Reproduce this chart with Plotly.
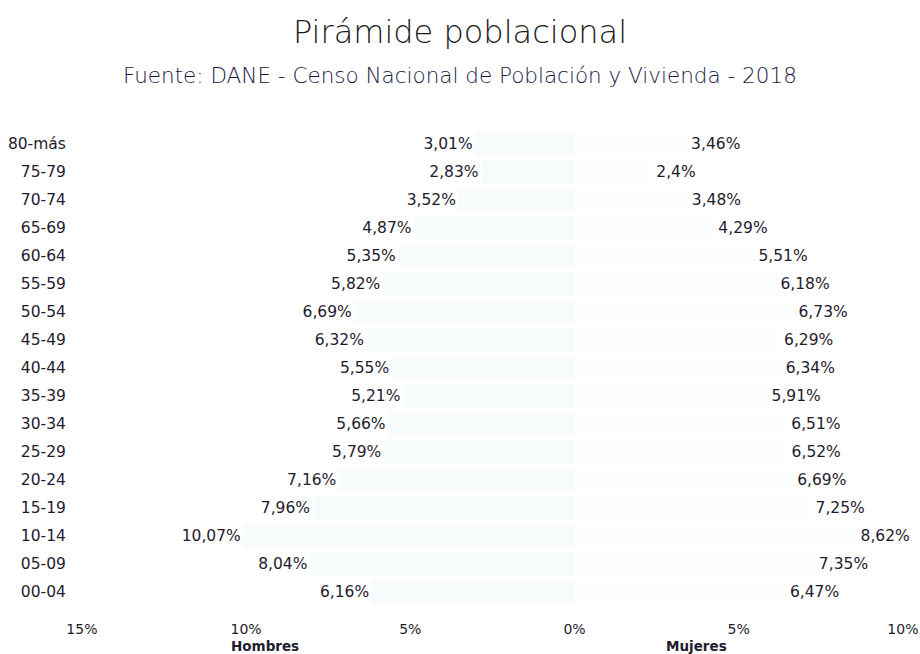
import plotly.graph_objects as go

# Data (top row to bottom row as shown)
age_groups = ["80-más", "75-79", "70-74", "65-69", "60-64", "55-59", "50-54", "45-49",
              "40-44", "35-39", "30-34", "25-29", "20-24", "15-19", "10-14", "05-09", "00-04"]
hombres = [3.01, 2.83, 3.52, 4.87, 5.35, 5.82, 6.69, 6.32, 5.55, 5.21, 5.66, 5.79,
           7.16, 7.96, 10.07, 8.04, 6.16]
mujeres = [3.46, 2.4, 3.48, 4.29, 5.51, 6.18, 6.73, 6.29, 6.34, 5.91, 6.51, 6.52,
           6.69, 7.25, 8.62, 7.35, 6.47]
tick_vals = [-15, -10, -5, 0, 5, 10]
tick_text = ["15%", "10%", "5%", "0%", "5%", "10%"]

def fmt(v):
    return str(v).replace(".", ",") + "%"

label_font = dict(family="DejaVu Sans", size=15.5, color="#1f1b2e")
thin_font = "DejaVu Sans ExtraLight, DejaVu Sans Light, Open Sans"

fig = go.Figure()
fig.add_trace(go.Bar(
    y=age_groups, x=[-v for v in hombres], orientation="h", name="Hombres",
    marker=dict(color="#f6fcfb", line=dict(width=0)),
    text=[fmt(v) for v in hombres], textposition="outside", textfont=label_font,
    constraintext="none", cliponaxis=False, hoverinfo="skip"))
fig.add_trace(go.Bar(
    y=age_groups, x=mujeres, orientation="h", name="Mujeres",
    marker=dict(color="#fdfefe", line=dict(width=0)),
    text=[fmt(v) for v in mujeres], textposition="outside", textfont=label_font,
    constraintext="none", cliponaxis=False, hoverinfo="skip"))

fig.update_layout(
    width=920, height=654,
    margin=dict(l=74, r=2, t=130, b=48, autoexpand=False),
    paper_bgcolor="white", plot_bgcolor="white",
    barmode="overlay", bargap=0.2, showlegend=False,
    title=dict(text="Pirámide poblacional", x=0.5, xref="container", xanchor="center",
               y=1 - 32 / 654, yanchor="middle",
               font=dict(family=thin_font, size=32, color="#1a1a1a")),
    xaxis=dict(range=[-15.24, 10.46], tickvals=tick_vals, ticktext=tick_text,
               showgrid=False, zeroline=False, showline=False,
               ticks="outside", ticklen=10, tickcolor="rgba(0,0,0,0)",
               tickfont=dict(family="DejaVu Sans", size=14, color="#1f1b2e")),
    yaxis=dict(type="category", autorange="reversed", showgrid=False, zeroline=False,
               showline=False, ticks="outside", ticklen=4, tickcolor="rgba(0,0,0,0)",
               tickfont=dict(family="DejaVu Sans", size=15.5, color="#1f1b2e")),
    annotations=[
        dict(text="Fuente: DANE - Censo Nacional de Población y Vivienda - 2018",
             xref="paper", yref="paper", x=(460 - 74) / 844, y=1, yshift=55,
             xanchor="center", yanchor="middle", showarrow=False,
             font=dict(family=thin_font, size=21.5, color="#21183f")),
        dict(text="<b>Hombres</b>", xref="x", yref="paper", x=-9.42, y=0, yshift=-40,
             xanchor="center", yanchor="middle", showarrow=False,
             font=dict(family="DejaVu Sans", size=13.5, color="#1f1b2e")),
        dict(text="<b>Mujeres</b>", xref="x", yref="paper", x=3.72, y=0, yshift=-40,
             xanchor="center", yanchor="middle", showarrow=False,
             font=dict(family="DejaVu Sans", size=13.5, color="#1f1b2e")),
    ],
)

fig.write_html("out.html", config={"displayModeBar": False},
               post_script="document.body.style.margin='0px';")
